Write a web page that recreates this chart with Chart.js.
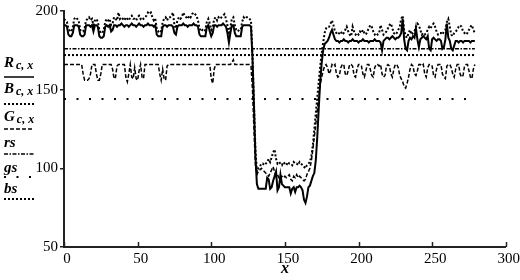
<!DOCTYPE html>
<html><head><meta charset="utf-8">
<script src="https://cdn.jsdelivr.net/npm/chart.js@4/dist/chart.umd.min.js"></script>
<style>html,body{margin:0;padding:0;background:#fff}#wrap{width:520px;height:280px;position:relative}</style>
</head><body><div id="wrap"><canvas id="c" width="520" height="280"></canvas></div>
<script>
// x positions 0..279
const xCount = 280;
const R = [
191,191,190,185,184,184,186,191,191,191,
190,185,184,184,185,191,191,191,190,191,
187,191,191,190,184,183,183,184,190,191,
190,191,187,188,191,191,190,191,191,192,
191,190,191,191,190,191,192,191,191,190,
191,192,191,191,190,191,191,192,191,191,
191,190,191,185,184,184,184,190,191,191,
190,191,191,191,190,186,185,190,191,191,
191,192,191,191,190,191,191,191,192,191,
191,190,185,184,184,184,184,190,191,187,
184,186,191,191,190,191,191,191,192,191,
190,186,180,186,191,191,186,184,184,184,
184,190,191,191,191,191,191,190,170,140,
108,90,87,87,87,87,87,87,94,93,
87,88,92,95,98,86,88,96,90,89,
88,88,88,88,84,87,88,85,88,88,
89,88,86,80,78,82,88,89,92,95,
97,105,120,138,155,167,175,179,180,181,
183,186,188,185,182,181,181,180,181,181,
182,181,181,180,181,181,182,181,181,181,
180,181,181,182,181,181,181,180,181,181,
181,182,181,181,181,180,175,181,182,183,
183,182,183,184,183,182,183,183,184,186,
195,182,176,175,181,183,182,184,183,189,
182,177,182,183,184,183,182,184,176,175,
182,183,182,181,182,182,181,176,177,182,
192,183,181,176,175,178,181,181,180,181,
181,180,181,181,181,181,180,181,181,181
];
const B = [
195,194,193,189,187,187,190,195,196,195,
194,188,187,187,189,194,195,196,194,195,
191,194,195,193,188,186,186,188,193,195,
194,195,191,192,196,195,194,199,195,196,
195,194,196,195,194,196,197,195,195,194,
196,197,195,196,195,196,197,199,198,199,
196,194,195,189,187,188,187,193,195,196,
194,196,196,197,199,191,189,194,196,195,
196,199,197,196,195,197,196,198,199,198,
197,194,189,187,188,187,188,193,195,192,
188,190,195,196,194,196,195,196,197,198,
195,191,185,190,195,196,191,188,187,188,
188,193,196,195,196,196,195,194,172,142,
112,98,100,101,103,103,102,103,104,106,
104,107,110,112,106,103,104,103,102,104,
103,102,104,103,103,102,104,103,103,102,
104,103,102,101,100,102,103,104,108,115,
125,135,145,155,165,173,180,186,189,190,
190,192,194,191,187,186,185,186,187,185,
186,188,190,187,185,184,190,187,185,186,
185,187,186,188,186,185,187,189,191,190,
187,185,186,185,186,191,188,185,186,187,
189,191,192,189,186,185,186,188,190,195,
197,188,184,183,186,188,185,186,187,190,
192,191,188,185,186,185,186,188,190,189,
191,192,190,187,185,186,186,185,187,188,
193,195,190,185,184,186,187,188,190,191,
190,187,186,185,186,188,190,191,188,186
];
const G = [
166,166,166,166,166,166,166,166,166,166,
166,166,166,160,156,156,156,157,160,166,
166,166,160,156,156,160,166,166,166,166,
166,166,166,163,157,158,165,166,166,166,
166,166,158,155,160,166,158,157,164,157,
156,162,166,158,157,166,166,166,166,166,
166,166,166,166,166,160,156,163,157,156,
165,166,166,166,166,166,166,166,166,166,
166,166,166,166,166,166,166,166,166,166,
166,166,166,166,166,166,166,166,166,166,
157,154,163,166,166,166,166,166,166,166,
166,166,166,166,167,169,166,166,166,166,
166,166,166,166,166,166,166,165,150,125,
102,96,98,99,100,99,98,97,96,95,
97,99,101,98,95,96,94,93,95,94,
95,94,95,96,93,92,95,94,96,94,
95,94,93,92,93,96,98,100,105,112,
120,128,137,146,153,158,162,165,166,164,
160,162,166,165,166,160,158,159,164,166,
166,160,159,162,166,166,165,159,158,163,
166,166,165,160,158,162,166,166,163,159,
158,164,166,166,165,166,160,158,159,165,
166,165,160,158,163,166,166,164,159,157,
155,152,151,154,158,163,166,165,160,159,
162,166,166,165,166,160,158,164,166,166,
165,159,158,163,166,166,166,160,158,157,
165,166,166,164,160,158,163,166,166,160,
158,159,165,166,166,162,158,157,163,166
];
const rs = 176, gs = 144, bs = 172;
const xTicks = [0, 50, 100, 150, 200, 250, 300];
const yTicks = [50, 100, 150, 200];
const legendLabels = [
  {main: 'R', sub: 'c, x', y: 67, line: 77, dash: [], w: 1.5},
  {main: 'B', sub: 'c, x', y: 93, line: 104, dash: [2, 2], w: 2},
  {main: 'G', sub: 'c, x', y: 121, line: 129, dash: [4, 2], w: 1.5},
  {main: 'rs', sub: '', y: 147, line: 154, dash: [4, 1.5, 1.5, 1.5], w: 1.5},
  {main: 'gs', sub: '', y: 172, line: 177, dash: [2, 10.5], w: 2},
  {main: 'bs', sub: '', y: 193, line: 199, dash: [2, 2], w: 2}
];

const xs = Array.from({length: xCount}, (_, i) => i);
const pts = arr => xs.map((x, i) => ({x: x, y: arr[i]}));
const hline = v => [{x: xs[0], y: v}, {x: xs[xs.length - 1], y: v}];
const serif = '"Liberation Serif", "DejaVu Serif", serif';

const extras = {
  id: 'extras',
  afterDraw(chart) {
    const ctx = chart.ctx;
    const xs_ = chart.scales.x, ys_ = chart.scales.y;
    ctx.save();
    // inward x ticks
    ctx.strokeStyle = '#222'; ctx.lineWidth = 1.5;
    const yb = ys_.getPixelForValue(50);
    xTicks.forEach(t => {
      const px = Math.round(xs_.getPixelForValue(t)) + 0.5;
      ctx.beginPath(); ctx.moveTo(px, yb); ctx.lineTo(px, yb - 5); ctx.stroke();
    });
    // legend
    ctx.fillStyle = '#000'; ctx.textBaseline = 'alphabetic'; ctx.textAlign = 'left';
    legendLabels.forEach(l => {
      ctx.font = 'italic bold 15px ' + serif;
      ctx.fillText(l.main, 4, l.y);
      if (l.sub) {
        const w = ctx.measureText(l.main).width;
        ctx.font = 'italic bold 12px ' + serif;
        ctx.fillText(l.sub, 4 + w + 2, l.y + 2);
      }
      ctx.beginPath();
      ctx.setLineDash(l.dash); ctx.lineWidth = l.w; ctx.strokeStyle = '#000';
      ctx.moveTo(4, l.line); ctx.lineTo(34, l.line); ctx.stroke();
    });
    ctx.restore();
  }
};

new Chart(document.getElementById('c'), {
  type: 'line',
  data: {
    datasets: [
      {label: 'R', data: pts(R), borderColor: '#000', borderWidth: 2, pointRadius: 0, tension: 0},
      {label: 'B', data: pts(B), borderColor: '#000', borderWidth: 2, borderDash: [2, 2], pointRadius: 0, tension: 0},
      {label: 'G', data: pts(G), borderColor: '#000', borderWidth: 1.5, borderDash: [4, 2], pointRadius: 0, tension: 0},
      {label: 'rs', data: hline(rs), borderColor: '#000', borderWidth: 1.5, borderDash: [4, 1.5, 1.5, 1.5], pointRadius: 0},
      {label: 'gs', data: hline(gs), borderColor: '#000', borderWidth: 2, borderDash: [2, 10.5], pointRadius: 0},
      {label: 'bs', data: hline(bs), borderColor: '#000', borderWidth: 2, borderDash: [2, 2], pointRadius: 0}
    ]
  },
  options: {
    responsive: false, animation: false, devicePixelRatio: 1,
    layout: {padding: {top: 7, right: 14, left: 0, bottom: 0}},
    plugins: {legend: {display: false}, tooltip: {enabled: false}},
    scales: {
      x: {
        type: 'linear', min: 0, max: 300,
        afterBuildTicks: s => { s.ticks = xTicks.map(v => ({value: v})); },
        afterFit: s => { s.height = 33; },
        grid: {display: true, drawOnChartArea: false, drawTicks: false},
        border: {color: '#222', width: 2},
        ticks: {color: '#000', padding: 3, labelOffset: 3, maxRotation: 0, font: {family: serif, size: 15}},
        title: {display: true, text: 'x', color: '#000', padding: {top: 0, bottom: 2}, font: {family: serif, size: 16, style: 'italic', weight: 'bold'}}
      },
      y: {
        type: 'linear', min: 50, max: 200,
        afterBuildTicks: s => { s.ticks = yTicks.map(v => ({value: v})); },
        afterFit: s => { s.width = 64; },
        grid: {display: true, drawOnChartArea: false, tickLength: 4, color: '#222', lineWidth: 1.5},
        border: {color: '#222', width: 2},
        ticks: {color: '#000', padding: 2, font: {family: serif, size: 15}}
      }
    }
  },
  plugins: [extras]
});
</script>
</body></html>
